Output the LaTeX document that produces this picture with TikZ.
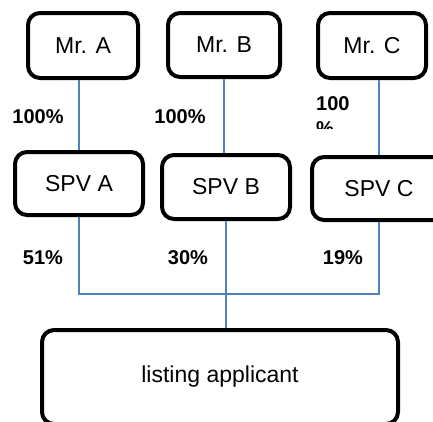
\documentclass[tikz,border=0pt]{standalone}
\usepackage{fontspec}
\setmainfont{Liberation Sans}
\tikzset{
  party/.style={draw, line width=4pt, rounded corners=12pt, inner sep=0pt,
    font=\fontsize{23}{27}\selectfont},
  pct/.style={inner sep=0pt, font=\fontsize{20}{25}\bfseries\selectfont},
  link/.style={draw=linkblue, line width=1.3pt}
}
\definecolor{linkblue}{RGB}{79,129,189}
\begin{document}
\begin{tikzpicture}[x=1pt,y=-1pt]
      \clip (0,0) rectangle (433,421);
      \useasboundingbox (0,0) rectangle (433,421);
      \draw
        (83,45.5) node[party, minimum width=110pt, minimum height=65pt] (mra){Mr. A}
        (224,45) node[party, minimum width=112pt, minimum height=64pt] (mrb){Mr. B}
        (372,45.5) node[party, minimum width=108pt, minimum height=65pt] (mrc){Mr. C}
        (79,183.5) node[party, minimum width=128pt, minimum height=63pt] (spva){SPV A}
        (226,187) node[party, minimum width=128pt, minimum height=64pt] (spvb){SPV B}
        (379,188.5) node[party, minimum width=134pt, minimum height=63pt] (spvc){SPV C}
        (220,377) node[party, minimum width=356pt, minimum height=94pt] (listing){listing applicant};
      % share labels
      \node[pct] (pa) at (38,117) {100\%};
      \node[pct] (pb) at (180,117) {100\%};
      \begin{scope}
        \clip (300,90) rectangle (370,128);
        \node[pct, align=left, anchor=north west] (pc) at (316,96) {100\\\%};
      \end{scope}
      \node[pct] (sa) at (43,258) {51\%};
      \node[pct] (sb) at (188,258) {30\%};
      \node[pct] (sc) at (343,258) {19\%};
      \coordinate (bus) at (0,294);
      \begin{scope}[link]
        \draw (spva.north) -- (spva.north |- mra.south);
        \draw (mrb.south) -- (mrb.south |- spvb.north);
        \draw (spvc.north) -- (spvc.north |- mrc.south);
        \draw (spva.south) -- (spva.south |- bus) -- (spvc.south |- bus) -- (spvc.south);
        \draw (spvb.south) -- (spvb.south |- listing.north);
      \end{scope}
    \end{tikzpicture}
\end{document}
